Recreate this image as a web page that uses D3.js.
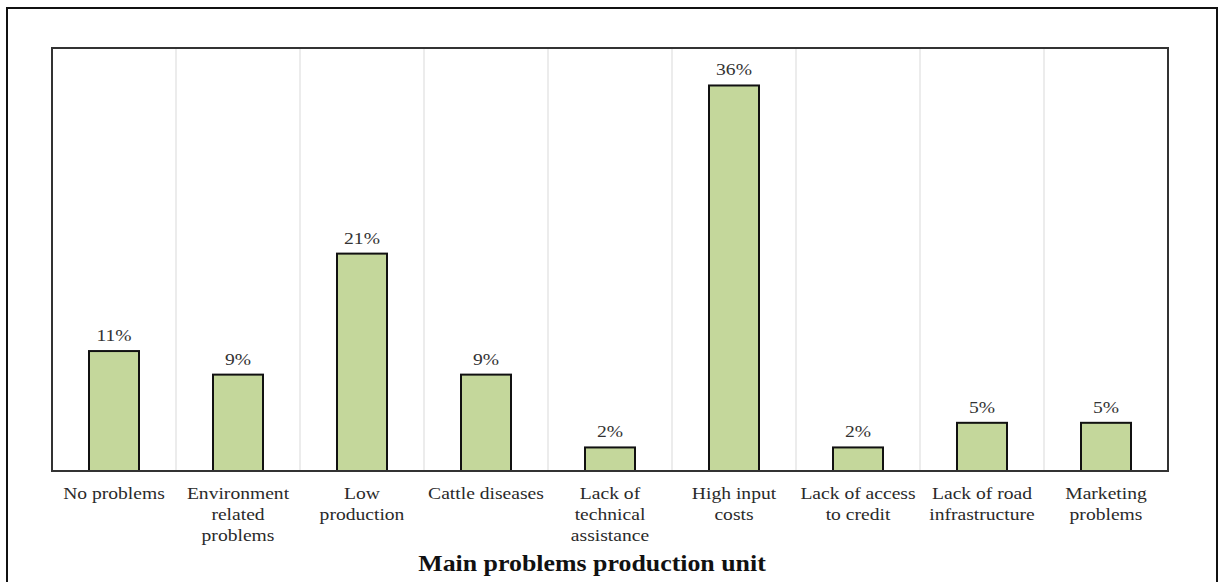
<!DOCTYPE html>
<html><head><meta charset="utf-8">
<script src="https://cdn.jsdelivr.net/npm/d3@7"></script>
<style>body{margin:0;background:#fff}svg{display:block}</style>
</head><body>
<svg id="c" width="1219" height="582"></svg>
<script>
const categories = [
  ["No problems"],
  ["Environment","related","problems"],
  ["Low","production"],
  ["Cattle diseases"],
  ["Lack of","technical","assistance"],
  ["High input","costs"],
  ["Lack of access","to credit"],
  ["Lack of road","infrastructure"],
  ["Marketing","problems"]
];
const values = [11.2, 9.0, 20.3, 9.0, 2.2, 36.0, 2.2, 4.5, 4.5];
const valueLabels = ["11%","9%","21%","9%","2%","36%","2%","5%","5%"];
const axisTitle = "Main problems production unit";

const svg = d3.select("#c");
const m = {l:52, t:48, r:1168, b:471};
const font = "'Liberation Serif','Times New Roman',serif";
const sx = 1.18;

svg.append("rect").attr("x",7).attr("y",8).attr("width",1210).attr("height",600)
  .attr("fill","none").attr("stroke","#111").attr("stroke-width",2);

const x = d3.scaleBand().domain(d3.range(categories.length)).range([m.l,m.r]).paddingInner(0).paddingOuter(0);
const y = d3.scaleLinear().domain([0,39.5]).range([m.b,m.t]);

svg.append("g").selectAll("line").data(d3.range(1,categories.length)).join("line")
  .attr("x1",d=>x(d)).attr("x2",d=>x(d)).attr("y1",m.t).attr("y2",m.b)
  .attr("stroke","#d9d9d9").attr("stroke-width",1);

const bw = 50;
svg.append("g").selectAll("rect").data(values).join("rect")
  .attr("x",(d,i)=>x(i)+x.bandwidth()/2-bw/2)
  .attr("y",d=>y(d)).attr("width",bw).attr("height",d=>m.b-y(d))
  .attr("fill","#c4d79b").attr("stroke","#111").attr("stroke-width",2);

svg.append("g").selectAll("text").data(values).join("text")
  .attr("transform",(d,i)=>`translate(${x(i)+x.bandwidth()/2},${y(d)-10}) scale(${sx},1)`)
  .attr("text-anchor","middle").attr("font-family",font).attr("font-size",16.6)
  .attr("fill","#333")
  .text((d,i)=>valueLabels[i]);

svg.append("rect").attr("x",m.l).attr("y",m.t).attr("width",m.r-m.l).attr("height",m.b-m.t)
  .attr("fill","none").attr("stroke","#333").attr("stroke-width",2);

const cg = svg.append("g");
categories.forEach((lines,i)=>{
  const t = cg.append("text")
    .attr("transform",`translate(${x(i)+x.bandwidth()/2},499) scale(${sx},1)`)
    .attr("text-anchor","middle").attr("font-family",font).attr("font-size",16.6)
    .attr("fill","#2a2a2a");
  lines.forEach((l,j)=>t.append("tspan").attr("x",0).attr("dy",j?21:0).text(l));
});

svg.append("text").attr("transform",`translate(592,571) scale(1.145,1)`).attr("text-anchor","middle")
  .attr("font-family",font).attr("font-size",22.6).attr("font-weight","bold")
  .attr("fill","#111")
  .text(axisTitle);
</script>
</body></html>
